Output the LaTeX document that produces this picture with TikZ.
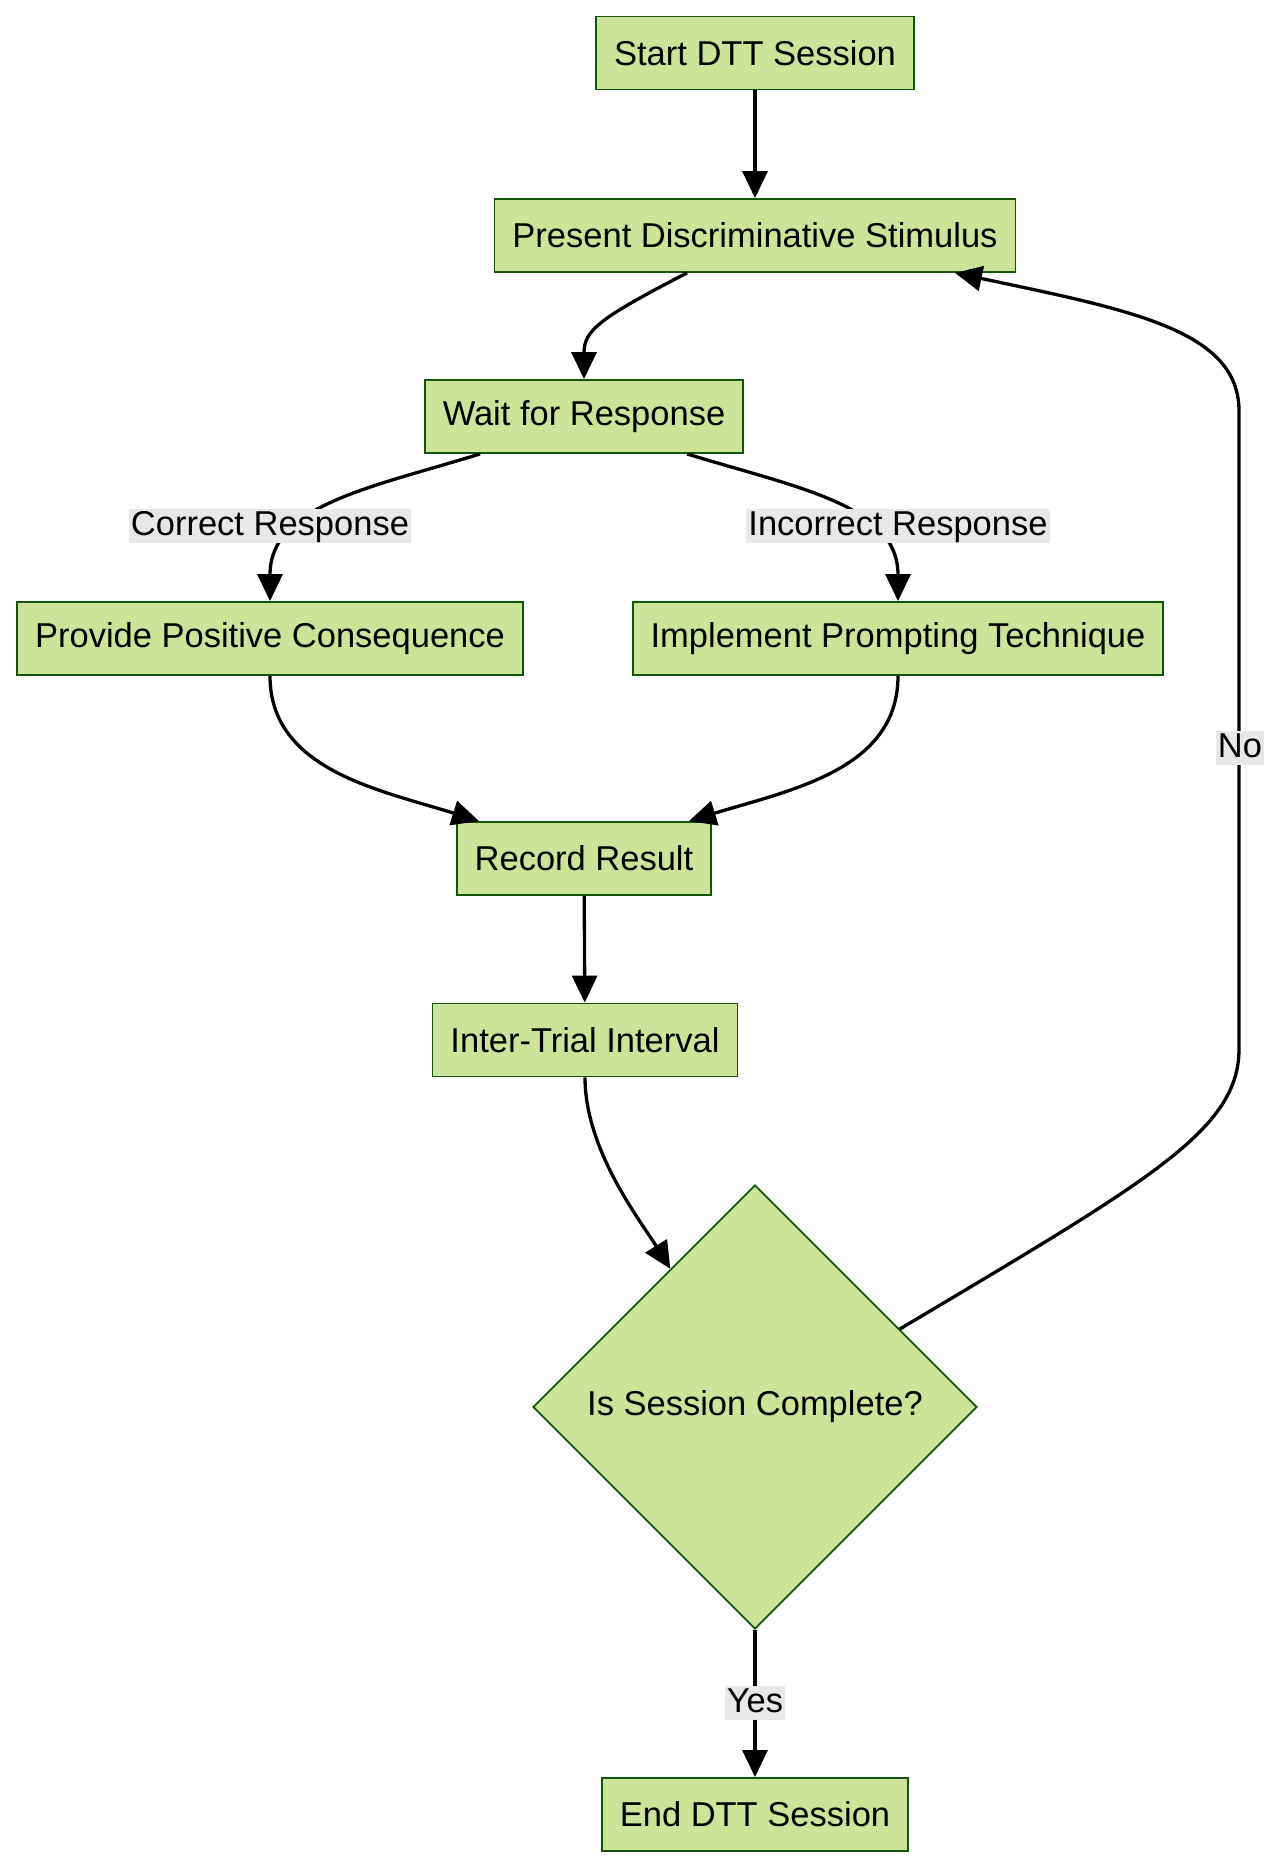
\documentclass[tikz,border=0pt]{standalone}
\usepackage{fontspec}
\setmainfont{Liberation Sans}
\usetikzlibrary{arrows.meta,shapes.geometric,calc}
\definecolor{boxfill}{HTML}{CDE498}
\definecolor{boxline}{HTML}{13540C}
\definecolor{lblbg}{HTML}{E8E8E8}
\begin{document}
\begin{tikzpicture}[x=1pt,y=-1pt,
  txt/.style={font=\fontsize{34.5pt}{40pt}\selectfont},
  box/.style={txt, draw=boxline, line width=1.8pt, fill=boxfill, minimum height=73pt, inner xsep=18pt},
  dec/.style={txt, diamond, draw=boxline, line width=1.8pt, fill=boxfill, minimum width=444pt, minimum height=444pt, inner sep=0pt},
  flow/.style={draw=black, line width=3.3pt, -{Triangle[length=27pt,width=25pt]}},
  lbl/.style={txt, fill=lblbg, inner xsep=2pt, inner ysep=1pt, text height=25pt, text depth=7pt}]
\fill[white] (0,0) rectangle (1280,1869);
\useasboundingbox (0,0) rectangle (1280,1869);

\node[box] (start) at (755,53) {Start DTT Session};
\node[box] (present) at (755,235.5) {Present Discriminative Stimulus};
\node[box] (wait) at (584,416.5) {Wait for Response};
\node[box] (provide) at (270,638.5) {Provide Positive Consequence};
\node[box] (implement) at (898,638.5) {Implement Prompting Technique};
\node[box] (record) at (584,858.5) {Record Result};
\node[box] (inter) at (585,1040) {Inter-Trial Interval};
\node[dec] (dec) at (755,1407) {Is Session Complete?};
\node[box] (end) at (755,1814.5) {End DTT Session};

\draw[flow] (start) -- (present);
\draw[flow] ([xshift=-68pt]present.south) .. controls (600,318) and (584,330) .. (wait.north);
\draw[flow] ([xshift=-104pt]wait.south) .. controls (370,488) and (270,505) .. (provide.north);
\draw[flow] ([xshift=103pt]wait.south) .. controls (798,488) and (898,505) .. (implement.north);
\draw[flow] (provide.south) .. controls (270,770) and (380,790) .. ([xshift=-105pt]record.north);
\draw[flow] (implement.south) .. controls (898,770) and (790,790) .. ([xshift=105pt]record.north);
\draw[flow] (record) -- (inter);
\draw[flow] (inter.south) .. controls (585,1150) and (640,1220) .. ($(dec.north)!0.38!(dec.west)$);
\draw[flow] (dec.south) -- (end.north);
\draw[flow] ($(dec.north)!0.65!(dec.east)$) .. controls (1150,1180) and (1239,1130) .. (1239,1049) -- (1239,411) .. controls (1239,330) and (1130,310) .. ([xshift=200pt]present.south);

\node[lbl] (lc) at (270,526) {Correct Response};
\node[lbl] (li) at (898,526) {Incorrect Response};
\node[lbl] (lno) at (1240,748) {No};
\node[lbl] (lyes) at (755,1703) {Yes};
\end{tikzpicture}
\end{document}
